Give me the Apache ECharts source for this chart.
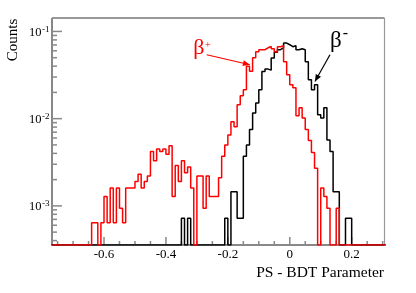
<!DOCTYPE html>
<html><head><meta charset="utf-8">
<script src="https://cdn.jsdelivr.net/npm/echarts@6.0.0/dist/echarts.min.js"></script>
<style>html,body{margin:0;padding:0;background:#fff}#c{width:416px;height:293px}</style>
</head><body><div id="c"></div><script>
// Histogram binning (left edge of first bin, bin width)
const binStart = -0.77, binWidth = 0.01;
// beta+ (red) bin contents, bins -0.77 ... 0.30
const betaPlus = [
 0,0,0,0,0,0,0,0,0,0,0,0,0,
 0.00064,0.00064,0,0.00064,0.00128,0.00064,0.0016,0.00064,0.0016,0.00094,0.00064,
 0.0016,0.0016,0.0016,0.0019,0.0023,0.0016,0.0019,0.0022,
 0.0042,0.0033,0.0045,0.0042,0.0045,0.0039,0.0049,0.00128,0.0029,
 0.0019,0.0033,0.0024,0.0028,0.0016,0,
 0.0022,0.0022,0.00094,0.0022,0.00128,0.00128,0.00128,0.0021,0.0037,0.0050,
 0.0065,0.0092,0.0081,0.0144,0.0183,0.0214,0.040,0.035,0.050,0.0585,
 0.0617,0.0617,0.065,0.0673,0.0633,0.0585,0.0668,0.0686,0.0449,0.0319,
 0.0245,0.0226,0.0108,0.0133,0.0102,0.0075,0.0056,0.0041,0.0027,0,
 0.0016,0.00128,0.00094,0,0,0.00094,
 0,0,0,0,0,0,0,0,0,0,0,0,0,0,0
];
// beta- (black) bin contents, bins -0.77 ... 0.30
const betaMinus = [
 0,0,0,0,0,0,0,0,0,0,0,0,0,0,0,0,0,0,0,0,0,
 0,0,0,0,0,0,0,0,0,0,0,0,0,0,0,0,0,0,0,0,0,
 0.00072,0,0.00072,
 0,0,0,0,0,0,0,0,0,0,0,
 0.00072,0,0.00145,0.00145,0.00072,0.00072,
 0.0037,0.0050,0.0075,0.0116,0.0151,0.0214,0.0348,0.0370,0.0360,0.0495,
 0.0577,0.0617,0.0650,0.0736,0.0704,0.0668,0.0686,0.0617,0.0633,0.0617,
 0.0449,0.0279,0.0214,0.0245,0.0111,0.0102,0.0133,0.0057,0.0042,
 0.00145,0.00145,0,0,0.00072,0.00072,
 0,0,0,0,0,0,0,0,0,0,0
];
// Axis ranges and ticks
const xRange = [-0.768, 0.306];
const yRange = [3.56e-4, 0.1426];
const xMajorTicks = [-0.6, -0.4, -0.2, 0, 0.2];
const xMajorLabels = ['-0.6', '-0.4', '-0.2', '0', '0.2'];
const xMinorTicks = [-0.75,-0.7,-0.65,-0.55,-0.5,-0.45,-0.35,-0.3,-0.25,-0.15,-0.1,-0.05,0.05,0.1,0.15,0.25,0.3];
const yMajorTicks = [1e-3, 1e-2, 1e-1];
const yMajorExponents = ['-3', '-2', '-1'];
const yMinorTicks = [4e-4,5e-4,6e-4,7e-4,8e-4,9e-4,
  2e-3,3e-3,4e-3,5e-3,6e-3,7e-3,8e-3,9e-3,
  2e-2,3e-2,4e-2,5e-2,6e-2,7e-2,8e-2,9e-2];
const xTitle = 'PS - BDT Parameter';
const yTitle = 'Counts';
// annotation anchors in data space
const plusArrow = [[-0.2684, 0.0541], [-0.1286, 0.0415]];
const minusArrow = [[0.1298, 0.0541], [0.0814, 0.0267]];
const plusLabelAt = [-0.2933, 0.064];
const minusLabelAt = [0.1492, 0.0774];

const SERIF = '"Liberation Serif","DejaVu Serif",serif';

function histData(vals) {
  const pts = vals.map((v, i) => [+(binStart + i * binWidth).toFixed(4), v > 0 ? v : yRange[0]]);
  const last = vals[vals.length - 1];
  pts.push([+(binStart + vals.length * binWidth).toFixed(4), last > 0 ? last : yRange[0]]);
  return pts;
}

function renderFrame(params, api) {
  const c = (x, y) => api.coord([x, y]);
  const bl = c(xRange[0], yRange[0]), tr = c(xRange[1], yRange[1]);
  const L = bl[0], B = bl[1], R = tr[0], T = tr[1];
  const ch = [];
  const line = (a, b, d, e, col, w) => ch.push({type: 'line', shape: {x1: a, y1: b, x2: d, y2: e}, style: {stroke: col, lineWidth: w}});
  const text = (s, x, y, font, align, fill, extra) => ch.push(Object.assign({type: 'text', x: x, y: y, style: {text: s, x: 0, y: 0, font: font, align: align, verticalAlign: 'middle', fill: fill || '#000'}}, extra || {}));
  line(L, T, R, T, '#333', 1);
  line(R, T, R, B, '#999', 1.2);
  line(L, T, L, B, '#888', 2);
  line(L, B, R, B, '#888', 2);
  xMajorTicks.forEach((v, k) => {
    const p = c(v, yRange[0])[0];
    line(p, B, p, B - 8, '#888', 1.5);
    text(xMajorLabels[k], p, B + 9.5, '13px ' + SERIF, 'center');
  });
  xMinorTicks.forEach(v => { const p = c(v, yRange[0])[0]; line(p, B, p, B - 4, '#888', 1.5); });
  yMajorTicks.forEach((v, k) => {
    const p = c(xRange[0], v)[1];
    line(L, p, L + 10, p, '#888', 1.5);
    text('10', 41.5, p + 1.3, '12.5px ' + SERIF, 'right');
    text(yMajorExponents[k], 42, p - 2.1, '9px ' + SERIF, 'left');
  });
  yMinorTicks.forEach(v => { const p = c(xRange[0], v)[1]; line(L, p, L + 5, p, '#888', 1.5); });
  text(xTitle, R - 0.5, 272.5, '15.5px ' + SERIF, 'right');
  text(yTitle, 13, 40, '15px ' + SERIF, 'center', '#000', {rotation: Math.PI / 2});
  return {type: 'group', children: ch};
}

function arrow(ch, p0, p1, col) {
  ch.push({type: 'line', shape: {x1: p0[0], y1: p0[1], x2: p1[0], y2: p1[1]}, style: {stroke: col, lineWidth: 1.2}});
  const ang = Math.atan2(p1[1] - p0[1], p1[0] - p0[0]);
  const len = 7, hw = 3;
  const bx = p1[0] - len * Math.cos(ang), by = p1[1] - len * Math.sin(ang);
  ch.push({type: 'polygon', shape: {points: [[p1[0], p1[1]],
    [bx + hw * Math.sin(ang), by - hw * Math.cos(ang)],
    [bx - hw * Math.sin(ang), by + hw * Math.cos(ang)]]}, style: {fill: col}});
}

function renderNotes(params, api) {
  const c = p => api.coord(p);
  const ch = [];
  arrow(ch, c(plusArrow[0]), c(plusArrow[1]), '#ff0000');
  arrow(ch, c(minusArrow[0]), c(minusArrow[1]), '#000');
  const pl = c(plusLabelAt), mi = c(minusLabelAt);
  ch.push({type: 'text', x: pl[0], y: pl[1], style: {text: 'β', x: 0, y: 0, font: '22px ' + SERIF, align: 'center', verticalAlign: 'middle', fill: '#ff0000'}});
  ch.push({type: 'text', x: pl[0] + 9, y: pl[1] - 3, style: {text: '+', x: 0, y: 0, font: '11px ' + SERIF, align: 'center', verticalAlign: 'middle', fill: '#ff0000'}});
  ch.push({type: 'text', x: mi[0], y: mi[1], style: {text: 'β', x: 0, y: 0, font: '23px ' + SERIF, align: 'center', verticalAlign: 'middle', fill: '#000'}});
  ch.push({type: 'text', x: mi[0] + 9.5, y: mi[1] - 7, style: {text: '-', x: 0, y: 0, font: '16px ' + SERIF, align: 'center', verticalAlign: 'middle', fill: '#000'}});
  return {type: 'group', children: ch};
}

const chart = echarts.init(document.getElementById('c'), null, {renderer: 'canvas'});
chart.setOption({
  animation: false,
  backgroundColor: '#fff',
  grid: {left: 52, top: 18, right: 31.5, bottom: 48, containLabel: false},
  xAxis: {type: 'value', min: xRange[0], max: xRange[1], axisLine: {show: false}, axisTick: {show: false}, axisLabel: {show: false}, splitLine: {show: false}},
  yAxis: {type: 'log', logBase: 10, min: yRange[0], max: yRange[1], axisLine: {show: false}, axisTick: {show: false}, axisLabel: {show: false}, splitLine: {show: false}, minorTick: {show: false}},
  series: [
    {type: 'custom', name: 'frame', data: [[0, 0.01]], renderItem: renderFrame, z: 1, silent: true, clip: false},
    {type: 'line', name: 'β-', data: histData(betaMinus), step: 'end', symbol: 'none', lineStyle: {color: '#000', width: 1.5}, z: 2, clip: true},
    {type: 'line', name: 'β+', data: histData(betaPlus), step: 'end', symbol: 'none', lineStyle: {color: '#ff0000', width: 1.5}, z: 3, clip: true},
    {type: 'custom', name: 'notes', data: [[0, 0.01]], renderItem: renderNotes, z: 4, silent: true, clip: false}
  ]
});
</script></body></html>
